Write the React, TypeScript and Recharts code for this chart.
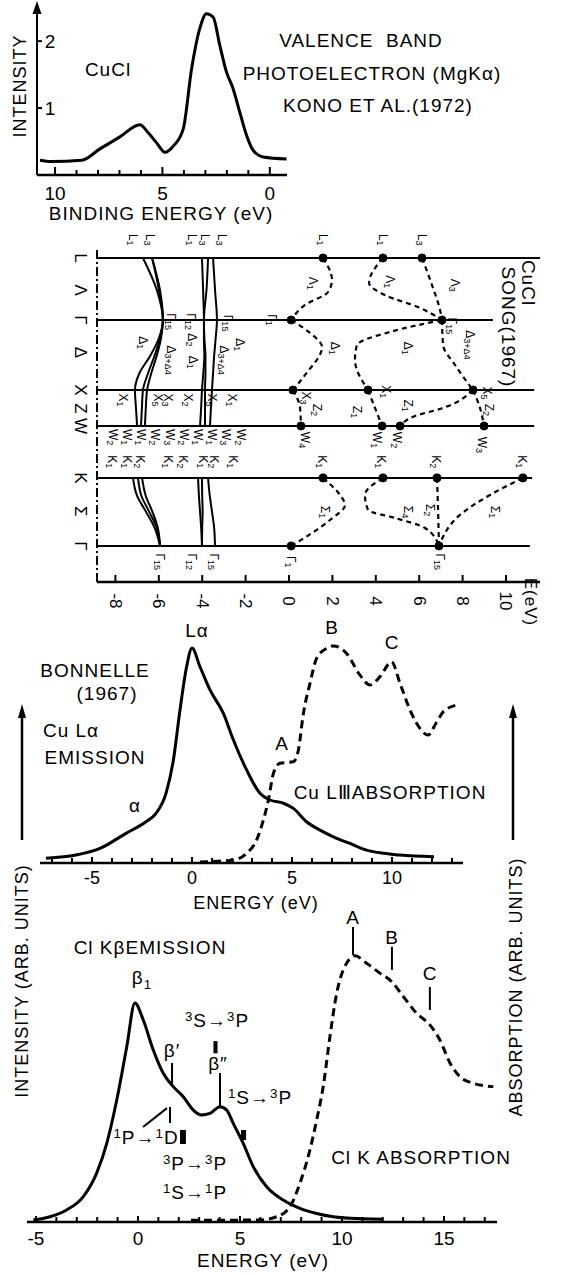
import { LineChart, Line, XAxis, YAxis, ReferenceLine, ReferenceDot, ReferenceArea } from "recharts";

const FONT = "'Liberation Sans', Arial, sans-serif";

// --- top panel: valence band photoelectron spectrum (binding energy, intensity)
const peE = [10.7, 10.2, 8.76, 7.91, 6.98, 6.05, 5.66, 5.27, 4.88, 4.5, 4.03, 3.64, 3.26, 2.95, 2.64, 2.33, 2.02, 1.71, 1.4, 1.08, 0.78, 0.31, -0.78];
const peI = [0.22, 0.2, 0.22, 0.39, 0.57, 0.75, 0.63, 0.48, 0.34, 0.43, 0.69, 1.59, 2.19, 2.41, 2.36, 1.94, 1.54, 1.29, 0.94, 0.59, 0.37, 0.27, 0.24];
const peTicks = [0, 1, 2, 3, 4, 5, 6, 7, 8, 9, 10];

// --- band structure (energy horizontal, k vertical)
const kNames = ["L", "Λ", "Γ", "Δ", "X", "Z", "W", "K", "Σ", "Γ"];
const kTicks = [0, 0.46, 0.886, 1.35, 1.886, 2.15, 2.4, 3.143, 3.62, 4.114];
const kLines = [0, 0.886, 1.886, 2.4, 3.143, 4.114];
const kLineEnd = [11.57, 9.4, 11.3, 11.3, 11.2, 11.1];
const bandTicks = [-8, -6, -4, -2, 0, 2, 4, 6, 8, 10];

const kValA = [0, 0.45, 0.886, 1.15, 1.4, 1.65, 1.886, 2.15, 2.4];
const valenceA = [
  [-6.73, -6.1, -5.81, -6.0, -6.4, -6.9, -7.1, -7.05, -7.0],
  [-6.31, -6.0, -5.81, -5.95, -6.2, -6.5, -6.73, -6.78, -6.82],
  [-6.31, -5.95, -5.81, -5.9, -6.1, -6.35, -6.54, -6.6, -6.64],
  [-4.01, -3.96, -3.92, -3.92, -3.9, -3.95, -4.01, -4.05, -4.1],
  [-3.73, -3.8, -3.92, -3.9, -3.85, -3.85, -3.87, -3.87, -3.87],
  [-3.5, -3.41, -3.32, -3.38, -3.45, -3.5, -3.55, -3.6, -3.64],
];
const kValB = [3.143, 3.4, 3.62, 3.85, 4.114];
const valenceB = [
  [-7.19, -7.0, -6.6, -6.2, -5.94],
  [-6.96, -6.8, -6.45, -6.1, -5.94],
  [-6.77, -6.6, -6.3, -6.05, -5.94],
  [-4.19, -4.15, -4.1, -4.05, -4.01],
  [-4.01, -4.0, -3.98, -4.0, -4.01],
  [-3.73, -3.65, -3.55, -3.45, -3.41],
];

const conductionK = [
  [0, 0.314, 0.486, 0.671, 0.886],
  [0, 0.357, 0.529, 0.714, 0.886],
  [0, 0.386, 0.743, 0.886],
  [0.886, 1.071, 1.271, 1.671, 1.886],
  [0.886, 1.057, 1.243, 1.457, 1.886],
  [0.886, 1.243, 1.529, 1.886],
  [1.886, 2.143, 2.4],
  [1.886, 2.14, 2.4],
  [1.886, 2.157, 2.257, 2.4],
  [1.886, 2.14, 2.4],
  [3.143, 3.386, 3.529, 3.743, 4.114],
  [3.143, 3.386, 3.6, 3.714, 3.857, 4.114],
  [3.143, 3.6, 4.114],
  [3.143, 3.386, 3.671, 4.114],
];
const conductionE = [
  [1.57, 1.98, 1.8, 0.74, 0.1],
  [4.33, 3.69, 4.42, 6.04, 7.05],
  [6.13, 6.59, 6.96, 7.05],
  [0.1, 0.97, 1.52, 0.74, 0.18],
  [7.05, 4.65, 3.13, 3.04, 3.64],
  [7.05, 7.1, 7.65, 8.48],
  [0.18, 0.51, 0.55],
  [3.64, 3.96, 4.29],
  [8.48, 6.96, 5.81, 5.12],
  [8.48, 8.8, 8.99],
  [1.57, 2.35, 2.58, 1.89, 0.1],
  [4.33, 3.5, 3.64, 4.88, 6.27, 6.91],
  [6.82, 6.87, 6.91],
  [10.78, 9.26, 7.88, 6.91],
];
const cbDots: [number, number][] = [
  [1.57, 0], [4.33, 0], [6.13, 0], [0.1, 0.886], [7.05, 0.886], [0.18, 1.886], [3.64, 1.886], [8.48, 1.886],
  [0.55, 2.4], [4.29, 2.4], [5.12, 2.4], [8.99, 2.4], [1.57, 3.143], [4.33, 3.143], [6.82, 3.143], [10.78, 3.143],
  [0.1, 4.114], [6.91, 4.114],
];

// state labels: [name, subscript, energy, k]
const stateLabels: [string, string, number, number][] = [
  ["L", "1", -7.19, -0.26], ["L", "3", -6.41, -0.26], ["L", "1", -4.47, -0.26], ["L", "3", -3.87, -0.26], ["L", "3", -3.09, -0.26],
  ["Γ", "15", -5.44, 0.91], ["Γ", "12", -4.52, 0.91], ["Γ", "15", -2.81, 0.93],
  ["Δ", "1", -6.73, 1.21], ["Δ", "3+Δ4", -5.44, 1.46], ["Δ", "2", -4.47, 1.17], ["Δ", "1", -4.42, 1.49], ["Δ", "3+Δ4", -3.0, 1.46], ["Δ", "1", -2.26, 1.24],
  ["X", "1", -7.65, 2.03], ["X", "5", -6.04, 2.03], ["X", "3", -5.58, 2.03], ["X", "2", -4.65, 2.03], ["X", "5", -3.55, 2.03], ["X", "1", -2.63, 2.03],
  ["W", "2", -8.11, 2.56], ["W", "1", -7.47, 2.56], ["W", "1", -6.82, 2.56], ["W", "2", -6.18, 2.56], ["W", "3", -5.48, 2.56],
  ["W", "2", -4.84, 2.56], ["W", "1", -4.19, 2.56], ["W", "1", -3.55, 2.56], ["W", "3", -2.9, 2.56], ["W", "2", -2.21, 2.56],
  ["K", "1", -8.16, 2.91], ["K", "1", -7.47, 2.91], ["K", "2", -6.87, 2.91], ["K", "1", -5.58, 2.91], ["K", "2", -4.88, 2.91],
  ["K", "1", -3.96, 2.91], ["K", "2", -3.46, 2.91], ["K", "1", -2.58, 2.91],
  ["Γ", "15", -5.94, 4.34], ["Γ", "12", -4.47, 4.34], ["Γ", "15", -3.46, 4.34],
  ["L", "1", 1.57, -0.26], ["L", "1", 4.33, -0.26], ["L", "3", 6.13, -0.26],
  ["Λ", "1", 1.11, 0.36], ["Λ", "1", 4.65, 0.34], ["Λ", "3", 7.65, 0.39],
  ["Γ", "1", -0.78, 0.886], ["Γ", "15", 7.51, 0.97],
  ["Δ", "1", 2.12, 1.29], ["Δ", "1", 5.48, 1.29], ["Δ", "3+Δ4", 8.34, 1.24],
  ["X", "3", 0.78, 2.0], ["X", "1", 4.47, 1.91], ["X", "5", 9.12, 1.93],
  ["Z", "2", 1.29, 2.17], ["Z", "1", 3.13, 2.2], ["Z", "1", 5.48, 2.11], ["Z", "2", 9.22, 2.17],
  ["W", "4", 0.74, 2.6], ["W", "1", 4.06, 2.6], ["W", "2", 4.98, 2.6], ["W", "3", 8.89, 2.67],
  ["K", "1", 1.52, 2.91], ["K", "1", 4.24, 2.91], ["K", "2", 6.77, 2.91], ["K", "1", 10.74, 2.91],
  ["Σ", "1", 1.66, 3.63], ["Σ", "4", 5.48, 3.63], ["Σ", "2", 6.5, 3.6], ["Σ", "1", 9.49, 3.63],
  ["Γ", "1", 0.09, 4.34], ["Γ", "15", 6.96, 4.34],
];

// --- Cu L alpha emission / Cu L3 absorption
const cuEmE = [-7.3, -5.8, -4.6, -3.3, -2.3, -1.8, -1.3, -0.93, -0.6, -0.27, 0, 0.4, 0.9, 1.57, 2.07, 2.73, 3.4, 3.9, 4.57, 5.07, 5.73, 6.4, 7.07, 7.9, 8.73, 9.57, 10.4, 12.1];
const cuEmI = [2.2, 3.7, 6.8, 13.8, 19.2, 23.1, 32.4, 47.9, 71.2, 91.3, 100, 91.3, 80.5, 69.6, 57.2, 43.3, 32.4, 29.3, 27.8, 25.4, 19.2, 15.3, 12.2, 9.1, 6, 4.5, 3.7, 2.9];
const cuAbE = [0.4, 2.07, 2.73, 3.23, 3.57, 3.82, 4.07, 4.4, 5.07, 5.32, 5.57, 5.9, 6.23, 6.73, 7.07, 7.73, 8.4, 8.9, 9.4, 9.98, 10.4, 10.9, 11.4, 11.8, 12.2, 12.57, 13.23];
const cuAbI = [0.5, 1.4, 4.5, 10.7, 20, 29.3, 41.7, 46.4, 47.1, 52.6, 69.6, 83.6, 95.2, 99.8, 101, 97.5, 87.4, 82.8, 86.7, 93.6, 83.6, 71.2, 62.6, 59.5, 65, 70.4, 73.5];
const cuTicks = [-7, -6, -5, -4, -3, -2, -1, 0, 1, 2, 3, 4, 5, 6, 7, 8, 9, 10, 11, 12, 13];

// --- Cl K beta emission / Cl K absorption
const clEmE = [-5.13, -4.31, -3.5, -2.68, -2.03, -1.53, -1.04, -0.55, -0.15, 0.26, 0.75, 1.24, 1.73, 2.22, 2.71, 3.12, 3.53, 4.02, 4.35, 4.67, 5.16, 5.65, 6.31, 7.12, 7.94, 8.76, 9.57, 10.4, 12.0];
const clEmI = [0.9, 2.4, 5.5, 11.6, 22.2, 35.9, 55.7, 80, 100, 92.2, 78.5, 67.9, 61.8, 57.2, 51.1, 48.9, 49.6, 52.6, 51.1, 45, 35.9, 25.3, 16.1, 10, 6.2, 3.9, 2.4, 1.7, 1.3];
const clAbE = [2.6, 5.98, 6.8, 7.45, 7.94, 8.43, 8.76, 9.08, 9.41, 9.74, 10.06, 10.64, 11.21, 11.86, 12.43, 13.0, 13.66, 14.31, 14.8, 15.3, 15.78, 16.44, 17.42];
const clAbI = [0.8, 0.9, 2.4, 7, 17.7, 32.9, 46.6, 61.8, 84.6, 104.4, 115, 121.5, 118.1, 113.6, 109.8, 103, 95.3, 90, 83.1, 72.5, 66.4, 63.3, 61.8];
const clTicks = [-5, -4, -3, -2, -1, 0, 1, 2, 3, 4, 5, 6, 7, 8, 9, 10, 11, 12, 13, 14, 15, 16, 17];
// peak markers [energy, from, to]
const clMarks: [number, number, number][] = [
  [10.54, 121.9, 134.7], [12.45, 115.1, 125.6], [14.31, 96.8, 107.3],
  [1.67, 61.6, 72.6], [4.02, 52.5, 68], [1.57, 45.2, 52.5],
];
// transition energy bars [e1, e2, i1, i2]
const clBars: [number, number, number, number][] = [
  [3.7, 3.9, 77, 82.6], [2.06, 2.35, 35.6, 42], [5.05, 5.3, 37.4, 42],
];

const zip = (xs: number[], ys: number[], kx: string, ky: string) => xs.map((v, n) => ({ [kx]: v, [ky]: ys[n] }));

function energyTick(major: (v: number) => boolean, long: number, short: number, dy: number, fs: number, rot = false) {
  return (p: any) => {
    const v = p.payload.value;
    const m = major(v);
    return (
      <g>
        <line x1={p.x} x2={p.x} y1={p.y} y2={p.y - (m ? long : short)} stroke="#000" strokeWidth={2} />
        {m && (
          <text
            transform={`translate(${p.x},${p.y + dy})${rot ? " rotate(90)" : ""}`}
            textAnchor="middle" dominantBaseline="central" fontSize={fs} fontFamily={FONT} fill="#000"
          >
            {v}
          </text>
        )}
      </g>
    );
  };
}

const stateShape = (name: string, sub: string) => (p: any) => (
  <text transform={`translate(${p.cx},${p.cy}) rotate(90)`} textAnchor="middle" dominantBaseline="central" fontSize={12} fontFamily={FONT} fill="#000">
    {name}
    <tspan fontSize={9} dy={3}>{sub}</tspan>
  </text>
);

function T({ x, y, s = 19, r = 0, ls = 1, children }: { x: number; y: number; s?: number; r?: number; ls?: number; children: any }) {
  return (
    <div
      style={{
        position: "absolute", left: x, top: y, transform: `translate(-50%,-50%) rotate(${r}deg)`,
        fontSize: s, lineHeight: 1, whiteSpace: "nowrap", letterSpacing: ls, fontFamily: FONT,
      }}
    >
      {children}
    </div>
  );
}

const sup = (t: string) => <span style={{ fontSize: "0.7em", verticalAlign: "0.45em" }}>{t}</span>;

export default function App() {
  const peData = zip(peE, peI, "e", "i");
  return (
    <div style={{ position: "relative", width: 563, height: 1275, background: "#fff", overflow: "hidden" }}>
      <style>{"body{margin:0}"}</style>

      <div style={{ position: "absolute", left: 0, top: 0 }}>
        <LineChart width={563} height={230} data={peData} margin={{ top: 5, right: 276, left: 0, bottom: 15 }}>
          <XAxis type="number" dataKey="e" domain={[-0.8, 10.84]} reversed allowDataOverflow ticks={peTicks} interval={0}
            tickSize={0} tickMargin={0} tickLine={false} height={40}
            tick={energyTick((v) => v % 5 === 0, 8, 5, 18, 19)} axisLine={{ stroke: "#000", strokeWidth: 2.5 }} />
          <YAxis type="number" domain={[0, 2.54]} allowDataOverflow ticks={[1, 2]} interval={0} width={37}
            tickSize={0} tickMargin={0} tickLine={false} axisLine={{ stroke: "#000", strokeWidth: 2 }}
            tick={(p: any) => (
              <g>
                <line x1={p.x} x2={p.x + 5} y1={p.y} y2={p.y} stroke="#000" strokeWidth={2} />
                <text x={p.x + 13} y={p.y} textAnchor="middle" dominantBaseline="central" fontSize={19} fontFamily={FONT}>{p.payload.value}</text>
              </g>
            )} />
          <Line dataKey="i" type="monotone" stroke="#000" strokeWidth={3} dot={false} isAnimationActive={false} />
        </LineChart>
      </div>

      <div style={{ position: "absolute", left: 0, top: 225 }}>
        <LineChart layout="vertical" width={563} height={405} margin={{ top: 25, right: 23, left: 0, bottom: 8 }}>
          <XAxis type="number" domain={[-8.848, 11.567]} allowDataOverflow ticks={bandTicks} interval={0}
            tickSize={0} tickMargin={0} tickLine={false} height={40}
            tick={energyTick(() => true, 7, 7, 19, 17, true)} axisLine={{ stroke: "#000", strokeWidth: 2.5 }} />
          <YAxis type="number" dataKey="k" domain={[-0.114, 4.629]} allowDataOverflow ticks={kTicks} interval={0} width={97}
            tickSize={0} tickMargin={0} tickLine={false}
            axisLine={{ stroke: "#000", strokeWidth: 2, strokeDasharray: "9 3 2 3" }}
            tick={(p: any) => (
              <text transform={`translate(${p.x - 17},${p.y}) rotate(90)`} textAnchor="middle" dominantBaseline="central" fontSize={17} fontFamily={FONT}>
                {kNames[p.index]}
              </text>
            )} />
          {kLines.map((k, n) => (
            <ReferenceLine key={"kl" + n} segment={[{ x: -8.848, y: k }, { x: kLineEnd[n], y: k }]} stroke="#000" strokeWidth={2} ifOverflow="visible" />
          ))}
          {valenceA.map((b, n) => (
            <Line key={"va" + n} data={zip(kValA, b, "k", "e")} dataKey="e" type="monotone" stroke="#000" strokeWidth={2} dot={false} isAnimationActive={false} />
          ))}
          {valenceB.map((b, n) => (
            <Line key={"vb" + n} data={zip(kValB, b, "k", "e")} dataKey="e" type="monotone" stroke="#000" strokeWidth={2} dot={false} isAnimationActive={false} />
          ))}
          {conductionE.map((b, n) => (
            <Line key={"cb" + n} data={zip(conductionK[n], b, "k", "e")} dataKey="e" type="monotone" stroke="#000" strokeWidth={2.2}
              strokeDasharray="5 4" dot={false} isAnimationActive={false} />
          ))}
          {cbDots.map(([e, k], n) => (
            <ReferenceDot key={"d" + n} x={e} y={k} r={4} fill="#000" stroke="#000" ifOverflow="visible" />
          ))}
          {stateLabels.map(([nm, sb, e, k], n) => (
            <ReferenceDot key={"s" + n} x={e} y={k} r={0} ifOverflow="visible" shape={stateShape(nm, sb)} />
          ))}
        </LineChart>
      </div>

      <div style={{ position: "absolute", left: 0, top: 600 }}>
        <LineChart width={563} height={300} margin={{ top: 30, right: 100, left: 40, bottom: 7 }}>
          <XAxis type="number" dataKey="e" domain={[-7.6, 13.55]} allowDataOverflow ticks={cuTicks} interval={0}
            tickSize={0} tickMargin={0} tickLine={false} height={30}
            tick={energyTick((v) => v % 5 === 0, 6, 5, 15, 18)} axisLine={{ stroke: "#000", strokeWidth: 2.5 }} />
          <YAxis hide type="number" domain={[0, 108.4]} allowDataOverflow />
          <Line data={zip(cuEmE, cuEmI, "e", "i")} dataKey="i" type="monotone" stroke="#000" strokeWidth={3} dot={false} isAnimationActive={false} />
          <Line data={zip(cuAbE, cuAbI, "e", "i")} dataKey="i" type="monotone" stroke="#000" strokeWidth={3} strokeDasharray="8 5" dot={false} isAnimationActive={false} />
        </LineChart>
      </div>

      <div style={{ position: "absolute", left: 0, top: 890 }}>
        <LineChart width={563} height={385} margin={{ top: 10, right: 66, left: 27, bottom: 8 }}>
          <XAxis type="number" dataKey="e" domain={[-5.44, 17.6]} allowDataOverflow ticks={clTicks} interval={0}
            tickSize={0} tickMargin={0} tickLine={false} height={45}
            tick={energyTick((v) => v % 5 === 0, 6, 5, 16, 19)} axisLine={{ stroke: "#000", strokeWidth: 2.5 }} />
          <YAxis hide type="number" domain={[0, 147]} allowDataOverflow />
          {clMarks.map(([e, a, b], n) => (
            <ReferenceLine key={"m" + n} segment={[{ x: e, y: a }, { x: e, y: b }]} stroke="#000" strokeWidth={2} ifOverflow="visible" />
          ))}
          <ReferenceLine segment={[{ x: 0.25, y: 43.4 }, { x: 1.42, y: 52 }]} stroke="#000" strokeWidth={2} />
          {clBars.map(([e1, e2, a, b], n) => (
            <ReferenceArea key={"b" + n} x1={e1} x2={e2} y1={a} y2={b} fill="#000" fillOpacity={1} stroke="none" />
          ))}
          <Line data={zip(clEmE, clEmI, "e", "i")} dataKey="i" type="monotone" stroke="#000" strokeWidth={3} dot={false} isAnimationActive={false} />
          <Line data={zip(clAbE, clAbI, "e", "i")} dataKey="i" type="monotone" stroke="#000" strokeWidth={3} strokeDasharray="8 5" dot={false} isAnimationActive={false} />
        </LineChart>
      </div>

      <svg width={563} height={1275} style={{ position: "absolute", left: 0, top: 0, pointerEvents: "none" }}>
        <polygon points="37,1 32.5,14 41.5,14" fill="#000" />
        <line x1={22} x2={22} y1={712} y2={840} stroke="#000" strokeWidth={2.5} />
        <polygon points="22,704 18,718 26,718" fill="#000" />
        <line x1={513} x2={513} y1={712} y2={840} stroke="#000" strokeWidth={2.5} />
        <polygon points="513,704 509,718 517,718" fill="#000" />
      </svg>

      <T x={20} y={86} r={-90} s={18}>INTENSITY</T>
      <T x={108} y={69}>CuCl</T>
      <T x={361} y={40}>VALENCE&nbsp;&nbsp;BAND</T>
      <T x={372} y={73}>PHOTOELECTRON (MgKα)</T>
      <T x={378} y={105}>KONO ET AL.(1972)</T>
      <T x={161} y={213}>BINDING ENERGY (eV)</T>

      <T x={528} y={283} r={90}>CuCl</T>
      <T x={508} y={327} r={90}>SONG(1967)</T>
      <T x={530} y={602} r={90} s={17}>E(eV)</T>

      <T x={197} y={630}>Lα</T>
      <T x={332} y={627}>B</T>
      <T x={392} y={642}>C</T>
      <T x={95} y={670}>BONNELLE</T>
      <T x={107} y={693}>(1967)</T>
      <T x={71} y={730}>Cu Lα</T>
      <T x={95} y={757}>EMISSION</T>
      <T x={282} y={743}>A</T>
      <T x={390} y={792}>Cu LⅢABSORPTION</T>
      <T x={135} y={805}>α</T>
      <T x={256} y={903} s={18}>ENERGY (eV)</T>

      <T x={22} y={981} r={-90} s={18}>INTENSITY (ARB. UNITS)</T>
      <T x={516} y={987} r={-90} s={18}>ABSORPTION (ARB. UNITS)</T>

      <T x={150} y={947}>Cl KβEMISSION</T>
      <T x={142} y={980}>β<sub style={{ fontSize: "0.7em" }}>1</sub></T>
      <T x={217} y={1020}>{sup("3")}S→{sup("3")}P</T>
      <T x={172} y={1050}>β′</T>
      <T x={218} y={1063}>β″</T>
      <T x={260} y={1097}>{sup("1")}S→{sup("3")}P</T>
      <T x={146} y={1137}>{sup("1")}P→{sup("1")}D</T>
      <T x={195} y={1163}>{sup("3")}P→{sup("3")}P</T>
      <T x={195} y={1192}>{sup("1")}S→{sup("1")}P</T>
      <T x={353} y={917}>A</T>
      <T x={392} y={937}>B</T>
      <T x={430} y={973}>C</T>
      <T x={421} y={1157}>Cl K ABSORPTION</T>
      <T x={263} y={1260}>ENERGY (eV)</T>
    </div>
  );
}
